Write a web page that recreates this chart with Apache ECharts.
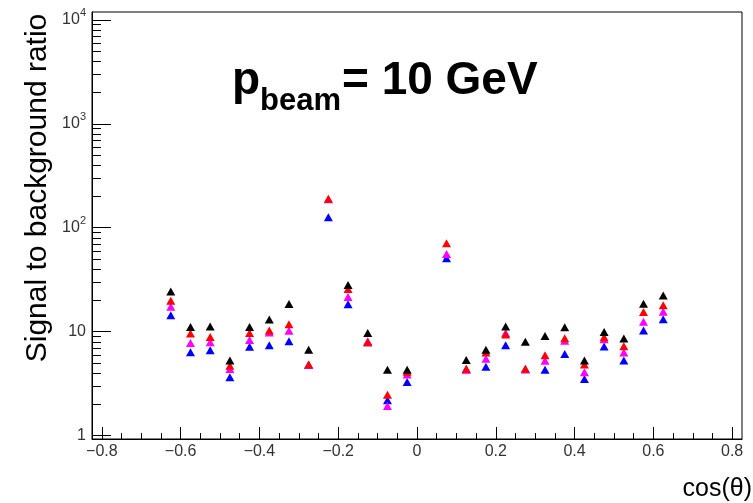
<!DOCTYPE html>
<html>
<head>
<meta charset="utf-8">
<script src="https://cdn.jsdelivr.net/npm/echarts@6/dist/echarts.min.js"></script>
<style>
html,body{margin:0;padding:0;background:#fff;}
#chart{width:753px;height:503px;}
</style>
</head>
<body>
<div id="chart"></div>
<script>
// ---- data ----
const cosTheta = [-0.625,-0.575,-0.525,-0.475,-0.425,-0.375,-0.325,-0.275,-0.225,-0.175,-0.125,-0.075,-0.025,
                   0.025, 0.075, 0.125, 0.175, 0.225, 0.275, 0.325, 0.375, 0.425, 0.475, 0.525, 0.575, 0.625];
const blackVals   = [24.4, 11.1, 11.2, 5.3, 11.1, 13.1, 18.5, 6.7, null, 28.2, 9.7, 4.3, 4.3, null, null, 5.35, 6.7, 11.2, 8.0, 9.1, 11.05, 5.3, 9.95, 8.6, 18.6, 22.3];
const redVals     = [19.8, 9.6, 8.9, 4.7, 9.7, 10.3, 11.8, 4.85, 190, 25.8, 7.9, 2.48, 4.13, null, 71, 4.4, 6.3, 9.4, 4.4, 5.95, 8.65, 4.85, 8.85, 7.25, 15.5, 18.0];
const magentaVals = [17.4, 7.8, 7.9, 4.37, 8.3, 9.8, 10.2, 4.8, 188, 21.6, 8.1, 1.93, 3.87, null, 56, 4.3, 5.5, 9.7, 4.35, 5.27, 8.2, 4.08, 8.45, 6.3, 12.5, 15.6];
const blueVals    = [14.4, 6.35, 6.65, 3.65, 7.15, 7.4, 8.1, 4.8, 126, 18.4, 7.9, 2.19, 3.29, null, 51, 4.35, 4.6, 7.4, 4.35, 4.3, 6.1, 3.5, 7.2, 5.3, 10.3, 13.2];

const xMajorTicks = [-0.8,-0.6,-0.4,-0.2,0,0.2,0.4,0.6,0.8];
const xMinorTicks = [-0.75,-0.7,-0.65,-0.55,-0.5,-0.45,-0.35,-0.3,-0.25,-0.15,-0.1,-0.05,
                     0.05,0.1,0.15,0.25,0.3,0.35,0.45,0.5,0.55,0.65,0.7,0.75];
const yMajorTicks = [1,10,100,1000,10000];
const yMinorTicks = [2,3,4,5,6,7,8,9,20,30,40,50,60,70,80,90,200,300,400,500,600,700,800,900,
                     2000,3000,4000,5000,6000,7000,8000,9000];

const FONT = 'Liberation Sans, Arial, Helvetica, sans-serif';

function pairs(vals){ return cosTheta.map((x,i)=>[x, vals[i]]); }

const chart = echarts.init(document.getElementById('chart'), null, {renderer:'canvas'});

const xMin = -0.825, xMax = 0.825, yMin = 0.929, yMax = 11890;

function mkSeries(name, vals, color){
  return {
    name: name, type:'scatter', xAxisIndex:0, yAxisIndex:0,
    data: pairs(vals), symbol:'triangle', symbolSize:[9,8],
    itemStyle:{color: color, opacity:1}, emphasis:{disabled:true}, animation:false, z:3
  };
}

const textGraphics = [
  {type:'text', x:38, y:188, rotation:Math.PI/2,
   style:{text:'Signal to background ratio', fontSize:30, fontFamily:FONT, fill:'#000', align:'center', verticalAlign:'middle'}},
  {type:'text', x:752, y:489,
   style:{text:'cos(\u03b8)', fontSize:25, fontFamily:FONT, fill:'#000', align:'right', verticalAlign:'middle'}},
  {type:'text', x:232, y:81,
   style:{text:'p', fontSize:46, fontWeight:'bold', fontFamily:FONT, fill:'#000', align:'left', verticalAlign:'middle'}},
  {type:'text', x:260, y:101,
   style:{text:'beam', fontSize:31, fontWeight:'bold', fontFamily:FONT, fill:'#000', align:'left', verticalAlign:'middle'}},
  {type:'text', x:342, y:81,
   style:{text:'= 10 GeV', fontSize:46, fontWeight:'bold', fontFamily:FONT, fill:'#000', align:'left', verticalAlign:'middle'}}
];

const hidden = {axisLine:{show:false}, axisTick:{show:false}, axisLabel:{show:false}, splitLine:{show:false}};

chart.setOption({
  animation:false,
  backgroundColor:'#fff',
  grid:{left:92, right:11, top:12, bottom:64, show:true, borderColor:'#000', borderWidth:1, backgroundColor:'transparent', outerBoundsMode:'none', containLabel:false},
  xAxis:[{
    type:'value', min:xMin, max:xMax, position:'bottom',
    axisLine:{show:true, onZero:false, lineStyle:{color:'#000', width:1}},
    axisTick:{show:true, inside:true, length:12, customValues:xMajorTicks, lineStyle:{color:'#000'}},
    axisLabel:{show:true, customValues:xMajorTicks, margin:5, fontSize:16, fontFamily:FONT, color:'#333',
      formatter:function(v){ if(Math.abs(v)<1e-9) return '0'; return (v<0?'\u2212':'')+Math.abs(v).toFixed(1); }},
    splitLine:{show:false}
  }, Object.assign({type:'value', min:0, max:1, position:'top'}, hidden),
  {
    type:'value', min:xMin, max:xMax, position:'bottom',
    axisLine:{show:true, onZero:true, onZeroAxisIndex:2, lineStyle:{color:'rgba(0,0,0,0)'}},
    axisTick:{show:true, inside:true, length:6, customValues:xMinorTicks, lineStyle:{color:'#000'}},
    axisLabel:{show:false}, splitLine:{show:false}
  }],
  yAxis:[{
    type:'log', logBase:10, min:yMin, max:yMax, position:'left',
    axisLine:{show:true, onZero:false, lineStyle:{color:'#000', width:1}},
    axisTick:{show:true, inside:true, length:19, customValues:yMajorTicks, lineStyle:{color:'#000'}},
    axisLabel:{show:true, customValues:yMajorTicks, margin:6, fontSize:16, fontFamily:FONT, color:'#333',
      formatter:function(v){
        const e = Math.round(Math.log10(v));
        if(e===0) return '{b|1}';
        if(e===1) return '{b|10}';
        return '{b|10}{s|'+e+'}';
      },
      rich:{
        b:{fontSize:16, fontFamily:FONT, color:'#333', lineHeight:16, verticalAlign:'bottom'},
        s:{fontSize:11, fontFamily:FONT, color:'#333', lineHeight:11, padding:[0,0,9,0], verticalAlign:'bottom'}
      }},
    splitLine:{show:false}
  }, {
    type:'log', logBase:10, min:yMin, max:yMax, position:'left',
    axisLine:{show:true, onZero:true, onZeroAxisIndex:1, lineStyle:{color:'rgba(0,0,0,0)'}},
    axisTick:{show:true, inside:true, length:9, customValues:yMinorTicks, lineStyle:{color:'#000'}},
    axisLabel:{show:false}, splitLine:{show:false}
  }, Object.assign({type:'value', min:0, max:1, position:'right'}, hidden)],
  series:[
    mkSeries('blue', blueVals, '#0000ff'),
    mkSeries('magenta', magentaVals, '#ff00ff'),
    mkSeries('red', redVals, '#ff0000'),
    mkSeries('black', blackVals, '#000000')
  ],
  graphic: textGraphics
});
</script>
</body>
</html>
